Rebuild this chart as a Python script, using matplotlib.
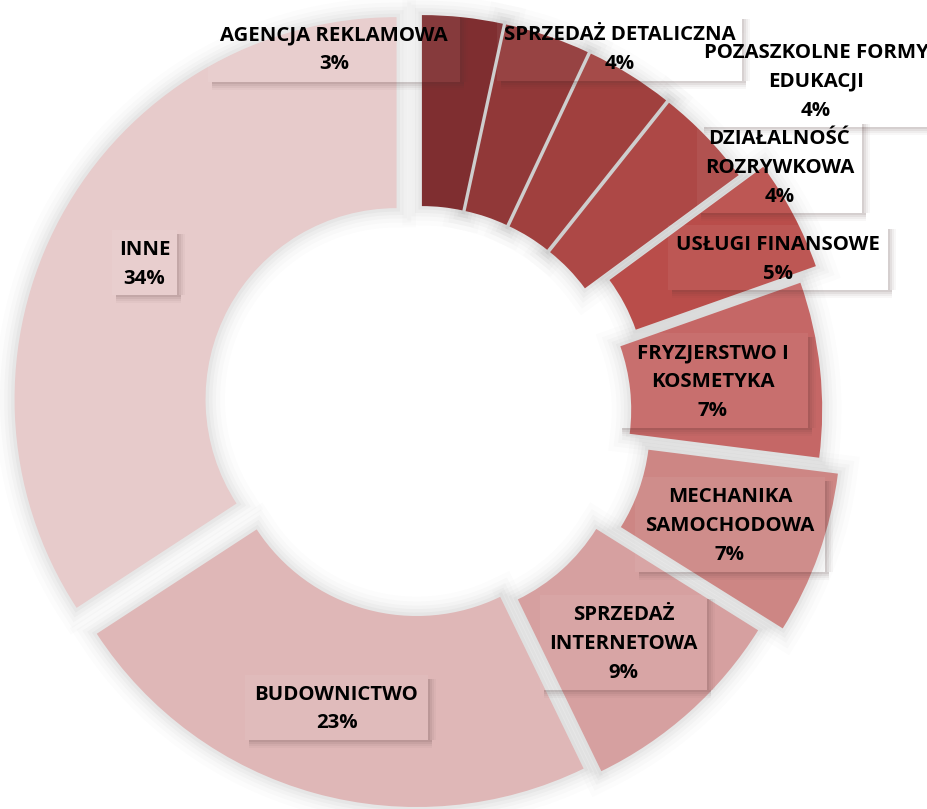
import matplotlib
matplotlib.use("Agg")
import matplotlib.pyplot as plt
from matplotlib.patches import Rectangle

# ---- data ----
categories = ["AGENCJA REKLAMOWA", "SPRZEDAŻ DETALICZNA", "POZASZKOLNE FORMY EDUKACJI",
              "DZIAŁALNOŚĆ ROZRYWKOWA", "USŁUGI FINANSOWE", "FRYZJERSTWO I KOSMETYKA",
              "MECHANIKA SAMOCHODOWA", "SPRZEDAŻ INTERNETOWA", "BUDOWNICTWO", "INNE"]
shares = [3.4, 3.6, 3.7, 4.2, 4.7, 7.4, 6.9, 8.9, 23.0, 34.2]
label_lines = [["AGENCJA REKLAMOWA"], ["SPRZEDAŻ DETALICZNA"], ["POZASZKOLNE FORMY", "EDUKACJI"],
               ["DZIAŁALNOŚĆ", "ROZRYWKOWA"], ["USŁUGI FINANSOWE"], ["FRYZJERSTWO I", "KOSMETYKA"],
               ["MECHANIKA", "SAMOCHODOWA"], ["SPRZEDAŻ", "INTERNETOWA"], ["BUDOWNICTWO"], ["INNE"]]

# ---- style / layout ----
colors = ["#7f2e30", "#913838", "#a0403e", "#ad4846", "#b94d4a", "#c56766",
          "#cd8684", "#d6a0a0", "#dfb7b7", "#e7cbcb"]
explode_px = [15, 15, 15, 15, 40, 20, 41, 21, 13.5, 27]
W, H = 927, 809
cx, cy = 420.3, H - 412
R, ring = 382, 191
# label boxes in image pixels: x0, x1, y0(top), y1(bottom)
boxes = [(208, 460, 14, 82), (497, 742, 15, 81), (700, 932, 33, 127), (697, 862, 120, 213),
         (668, 888, 225, 290), (618, 808, 333, 428), (635, 825, 477, 572), (540, 707, 595, 690),
         (245, 428, 675, 740), (112, 177, 230, 295)]

fig = plt.figure(figsize=(W / 100, H / 100), dpi=100)
ax = fig.add_axes([0, 0, 1, 1])

explode = [e for e in explode_px]

# soft halo (shadow glow)
for lw, a in [(28, 0.012), (21, 0.015), (15, 0.018), (10, 0.022), (5, 0.028)]:
    ax.pie(shares, radius=R, center=(cx, cy), startangle=90, counterclock=False,
           explode=explode, colors=["none"] * len(shares),
           wedgeprops=dict(width=ring, edgecolor=(0, 0, 0, a), linewidth=lw, zorder=1))

# the ring
ax.pie(shares, radius=R, center=(cx, cy), startangle=90, counterclock=False,
       explode=explode, colors=colors,
       wedgeprops=dict(width=ring, edgecolor="none", linewidth=0, zorder=2))

total = sum(shares)
pcts = [f"{round(v / total * 100):d}%" for v in shares]


def draw_shadow(x0, x1, y0, y1):
    # shadow to bottom-right, soft
    off = 4
    for k, a in [(8, 0.035), (6, 0.05), (4, 0.07), (2, 0.09)]:
        ax.add_patch(Rectangle((x0 + off, y0 - k), (x1 - x0), k, facecolor=(0.3, 0.2, 0.2, a),
                               edgecolor="none", zorder=3))
        ax.add_patch(Rectangle((x1, y0), k, (y1 - y0) - off, facecolor=(0.3, 0.2, 0.2, a),
                               edgecolor="none", zorder=3))


for lines, pct, (bx0, bx1, by0, by1) in zip(label_lines, pcts, boxes):
    x0, x1 = bx0, bx1
    y0, y1 = H - by1, H - by0
    draw_shadow(x0, x1, y0, y1)
    ax.add_patch(Rectangle((x0, y0), x1 - x0, y1 - y0, facecolor=(1, 1, 1, 0.06),
                           edgecolor="none", zorder=3))
    all_lines = lines + [pct]
    n = len(all_lines)
    step = 29
    xm = (x0 + x1) / 2
    ym = (y0 + y1) / 2 - 1.5
    for i, t in enumerate(all_lines):
        yy = ym + (n - 1) / 2 * step - i * step
        ax.text(xm, yy, t, ha="center", va="center", fontsize=14.7, fontweight="bold",
                family=["Open Sans", "DejaVu Sans"], color="black", zorder=4)

ax.set_xlim(0, W)
ax.set_ylim(0, H)
ax.set_aspect("equal")
ax.axis("off")
fig.savefig("out.png", dpi=100, facecolor="white")
